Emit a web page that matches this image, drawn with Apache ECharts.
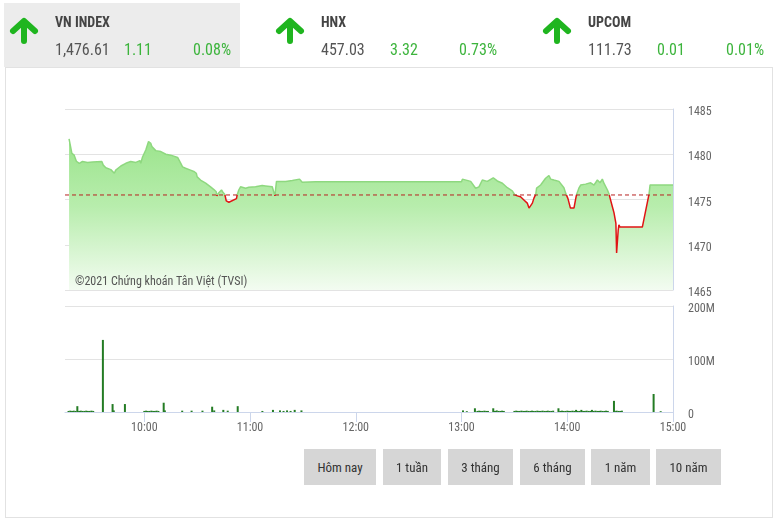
<!DOCTYPE html>
<html><head><meta charset="utf-8">
<script src="https://cdn.jsdelivr.net/npm/echarts@6/dist/echarts.min.js"></script>
<style>
html,body{margin:0;padding:0;background:#fff;}
body{width:776px;height:521px;position:relative;overflow:hidden;font-family:'Roboto Condensed','Liberation Sans Narrow',Roboto,sans-serif;}
.hdr{position:absolute;left:4px;top:3px;width:236px;height:64px;background:#ececec;z-index:0;}
.box{position:absolute;left:5px;top:67px;width:766px;height:449px;border:1px solid #e2e2e2;z-index:0;}
#chart{position:absolute;left:0;top:0;width:776px;height:521px;z-index:1;}
.t{position:absolute;white-space:nowrap;line-height:1;z-index:2;}
.title{font-size:14px;font-weight:bold;color:#444;}
.num{font-size:16px;color:#555;}
.g{font-size:16px;color:#3cb43c;}
.arrow{position:absolute;z-index:2;}
.btn{position:absolute;top:449px;height:36px;background:#d6d6d6;color:#333;font-size:13px;display:flex;align-items:center;justify-content:center;z-index:2;}
</style>
</head><body>
<div class="hdr"></div>
<div class="box"></div>
<div id="chart"></div>
<script>
// ---- header data ----
const indexNames = ["VN INDEX", "HNX", "UPCOM"];
const indexValues = ["1,476.61", "457.03", "111.73"];
const indexChanges = ["1.11", "3.32", "0.01"];
const indexPercents = ["0.08%", "0.73%", "0.01%"];
const rangeButtons = ["Hôm nay", "1 tuần", "3 tháng", "6 tháng", "1 năm", "10 năm"];
const watermark = "©2021 Chứng khoán Tân Việt (TVSI)";

// ---- x axis tick labels ----
const xTickLabels = ["10:00", "11:00", "12:00", "13:00", "14:00", "15:00"];
const sessionStart = "09:15";
const sessionEnd = "15:00";
const refPrice = 1475.5;

// ---- price series ----
const priceTimes = ["09:17:18","09:18:54","09:20:12","09:21:30","09:23:06","09:24:54","09:27:48","09:30:36","09:35:54","09:36:42",
"09:38:12","09:41:00","09:43:00","09:43:48","09:46:42","09:49:30","09:52:18","09:55:12","09:57:30","09:58:00",
"09:59:00","10:00:00","10:00:54","10:02:24","10:03:42","10:04:18","10:06:30","10:09:24","10:12:12","10:15:00",
"10:18:54","10:20:42","10:21:42","10:23:24","10:26:12","10:28:06","10:29:30","10:30:00","10:31:54","10:34:48",
"10:37:36","10:39:30","10:40:48","10:41:12","10:42:18","10:43:48","10:44:36","10:45:42","10:46:30","10:48:00",
"10:52:18","10:52:42","10:53:36","10:54:36","10:55:36","10:57:30","10:59:18","11:03:06","11:06:54","11:08:48",
"11:12:36","11:14:06","11:15:00","11:20:12","11:24:00","11:28:06","11:29:36","11:37:12","13:00:00","13:00:30",
"13:01:24","13:05:12","13:08:00","13:09:54","13:11:48","13:14:36","13:18:00","13:20:18","13:23:12","13:26:00",
"13:28:48","13:30:06","13:31:42","13:32:36","13:33:30","13:35:24","13:37:18","13:38:18","13:40:12","13:41:06",
"13:42:06","13:42:36","13:44:54","13:47:42","13:49:36","13:50:36","13:52:24","13:55:18","13:58:06","13:59:06",
"14:00:00","14:00:24","14:01:30","14:01:48","14:03:48","14:04:48","14:05:18","14:06:36","14:07:36","14:10:24",
"14:13:18","14:15:12","14:17:06","14:18:36","14:19:54","14:20:48","14:22:48","14:23:42","14:25:36","14:26:30",
"14:27:06","14:27:36","14:28:00","14:28:42","14:28:54","14:29:18","14:29:54","14:42:36","14:46:24","14:47:00",
"15:00:00"];
const priceValues = [1481.7,1480.1,1479.9,1479.2,1479.0,1479.2,1479.1,1479.15,1479.2,1478.8,
1478.5,1478.3,1477.9,1478.25,1478.7,1479.0,1479.2,1479.1,1479.3,1479.0,
1479.7,1479.9,1480.5,1481.4,1481.2,1480.85,1480.4,1480.3,1480.0,1479.9,
1479.65,1479.0,1478.6,1478.45,1478.25,1478.1,1477.9,1477.5,1477.15,1476.8,
1476.4,1476.1,1475.85,1475.4,1475.75,1476.05,1475.8,1475.55,1474.85,1474.7,
1475.1,1475.5,1476.05,1476.4,1476.25,1476.25,1476.35,1476.4,1476.55,1476.5,
1476.4,1475.4,1477.0,1477.0,1477.1,1477.25,1476.9,1476.95,1476.95,1477.25,
1477.05,1477.0,1476.25,1476.4,1477.15,1477.0,1477.4,1477.05,1476.8,1476.3,
1475.95,1475.55,1475.4,1475.2,1475.3,1474.95,1474.6,1474.05,1474.6,1475.15,
1475.55,1476.25,1476.6,1477.35,1477.65,1477.25,1477.15,1477.0,1476.3,1475.7,
1475.5,1475.1,1475.05,1474.05,1474.05,1475.1,1475.55,1476.25,1476.6,1476.7,
1476.85,1476.6,1477.15,1476.85,1477.25,1476.8,1476.05,1475.6,1474.2,1473.55,
1473.55,1472.35,1469.1,1469.1,1471.6,1472.2,1471.95,1471.95,1475.6,1476.61,
1476.61];

// ---- volume series (millions) ----
const volTimes = ["09:17","09:18","09:19","09:20","09:21","09:22","09:23","09:24","09:25","09:26","09:27","09:28","09:29","09:30","09:31",
"09:36:30","09:42","09:42:40","09:49",
"10:00","10:01","10:02","10:03","10:04","10:05","10:06","10:07","10:08",
"10:11","10:11:40","10:21:30","10:26:50","10:33","10:38:30","10:39:40","10:44:50","10:47:20","10:53",
"11:07","11:13","11:17","11:19","11:21","11:23","11:25:20","11:29:10",
"13:00:50","13:03","13:07:36","13:09","13:10","13:11","13:12","13:13","13:14","13:15","13:18","13:19","13:20","13:21","13:22","13:23","13:24",
"13:30","13:31","13:32","13:33","13:34","13:35","13:36","13:37","13:38","13:39","13:40","13:41","13:42","13:43","13:44","13:45","13:46","13:47","13:48","13:49","13:50","13:51","13:52",
"13:55","13:56","13:57","13:58","13:59","14:00","14:01","14:02","14:03","14:04","14:05","14:06","14:07","14:08","14:09","14:10","14:11","14:12","14:13","14:14","14:15","14:16","14:17","14:18","14:19","14:20","14:21","14:22","14:23",
"14:26:30","14:27","14:28","14:29","14:30","14:31","14:49","14:53"];
const volValues = [2,2.5,2,2.5,2,11,2,2.5,2,2,2.5,2,2,2.5,2,
136,15,3,15,
2,2.5,2,2,2.5,2,2,2.5,2,
17.5,3,2.5,2.5,2.5,10,3,4,2.5,11,
2,4,3,2,3,2,4,3,
3,1.5,7,2,2.5,2,2,2.5,2,2,7,2,3,2,2,2.5,2,
2,2.5,2,2,2.5,2,2,2.5,2,2,2.5,2,2,2.5,2,2,2.5,2,2,2.5,2,2,2.5,
7,2,2.5,2,2,2.5,2,2,2.5,2,4,2,2,4,2,2,2.5,2,2,4,2,2.5,2,2,2.5,2,2,2.5,2,
21,2,2.5,2,2,2.5,34,1.5];

function toMin(s){const p=s.split(':').map(Number);return p[0]*60+p[1]+(p[2]||0)/60;}

// ---- header DOM ----
const blockX = [55, 321, 588];
const arrowCX = [23.5, 290, 556.5];
indexNames.forEach((name,i)=>{
  const x = blockX[i];
  const add = (cls, txt, left, top) => { const d=document.createElement('div'); d.className='t '+cls; d.textContent=txt; d.style.left=left+'px'; d.style.top=top+'px'; document.body.appendChild(d); };
  add('title', name, x, 15);
  add('num', indexValues[i], x, 41.5);
  add('g', indexChanges[i], x+69, 41.5);
  add('g', indexPercents[i], x+138, 41.5);
  const svg = document.createElementNS('http://www.w3.org/2000/svg','svg');
  svg.setAttribute('width','30'); svg.setAttribute('height','30');
  svg.setAttribute('class','arrow');
  svg.style.left=(arrowCX[i]-15)+'px'; svg.style.top='16px';
  svg.innerHTML='<path d="M4,15 L15,5 L26,15 M15,6 L15,25" fill="none" stroke="#1fb51f" stroke-width="6" stroke-linecap="round" stroke-linejoin="round"/>';
  document.body.appendChild(svg);
});
const btnLeft = [304, 383, 448, 520, 591, 656];
const btnWidth = [72, 58, 65, 65, 59, 65];
rangeButtons.forEach((b,i)=>{
  const d=document.createElement('div'); d.className='btn'; d.textContent=b;
  d.style.left=btnLeft[i]+'px'; d.style.width=btnWidth[i]+'px';
  document.body.appendChild(d);
});

// ---- chart ----
const priceData = priceTimes.map((t,i)=>[toMin(t), priceValues[i]]);
const volData = volTimes.map((t,i)=>[toMin(t), volValues[i]*1e6]);
const tickVals = xTickLabels.map(toMin);
const xmin = toMin(sessionStart), xmax = toMin(sessionEnd);
const refData = [[xmin, refPrice], [xmax, refPrice]];
const axisCol = '#ccd6eb';
const fontFam = "'Roboto Condensed','Liberation Sans Narrow',Roboto,sans-serif";

const chart = echarts.init(document.getElementById('chart'));
chart.setOption({
  animation:false,
  backgroundColor:'transparent',
  grid:[
    {left:65, top:109, width:608, height:181},
    {left:65, top:306, width:608, height:106}
  ],
  xAxis:[
    {type:'value', gridIndex:0, min:xmin, max:xmax, show:false},
    {type:'value', gridIndex:1, min:xmin, max:xmax,
     axisLine:{show:true, lineStyle:{color:axisCol}},
     axisTick:{show:true, customValues:tickVals, length:10, lineStyle:{color:axisCol}},
     axisLabel:{show:true, customValues:tickVals, margin:10, color:'#666', fontSize:12, fontFamily:fontFam,
       formatter:v=>{const i=tickVals.findIndex(t=>Math.abs(t-v)<0.01);return i>=0?xTickLabels[i]:'';}},
     splitLine:{show:false}}
  ],
  yAxis:[
    {type:'value', gridIndex:0, position:'right', min:1465, max:1485, interval:5,
     axisLine:{show:true, lineStyle:{color:axisCol}}, axisTick:{show:false},
     axisLabel:{margin:15, color:'#666', fontSize:12, fontFamily:fontFam, verticalAlign:'top', lineHeight:6, formatter:v=>String(v)},
     splitLine:{lineStyle:{color:'#e3e3e3'}}},
    {type:'value', gridIndex:1, position:'right', min:0, max:200e6, interval:100e6,
     axisLine:{show:true, lineStyle:{color:axisCol}}, axisTick:{show:false},
     axisLabel:{margin:15, color:'#666', fontSize:12, fontFamily:fontFam, verticalAlign:'top', lineHeight:6,
       formatter:v=> v===0?'0':(v/1e6)+'M'},
     splitLine:{lineStyle:{color:'#e3e3e3'}}}
  ],
  visualMap:{type:'piecewise', show:false, seriesIndex:0, dimension:1,
    pieces:[{gte:1400, lt:refPrice, color:'#e01414'},{gte:refPrice, lte:1550, color:'#8ed87f'}]},
  graphic:[{type:'text', left:75, top:276, z:100,
    style:{text:watermark, fill:'#555', font:"12px "+fontFam}}],
  series:[
    {type:'line', xAxisIndex:0, yAxisIndex:0, data:priceData, showSymbol:false, symbol:'none',
     lineStyle:{width:1.5},
     areaStyle:{origin:'start', opacity:1,
       color:new echarts.graphic.LinearGradient(0,0,0,1,[{offset:0,color:'#9be48c'},{offset:0.45,color:'#b8edad'},{offset:1,color:'#f3fcf1'}])}},
    {type:'line', xAxisIndex:0, yAxisIndex:0, data:refData, showSymbol:false, symbol:'none', silent:true, z:3,
     lineStyle:{color:'#b82020', type:[4,3], width:1}, itemStyle:{color:'#b82020'}},
    {type:'bar', xAxisIndex:1, yAxisIndex:1, data:volData, barWidth:2, itemStyle:{color:'#247c24'}}
  ]
});
</script>
</body></html>
